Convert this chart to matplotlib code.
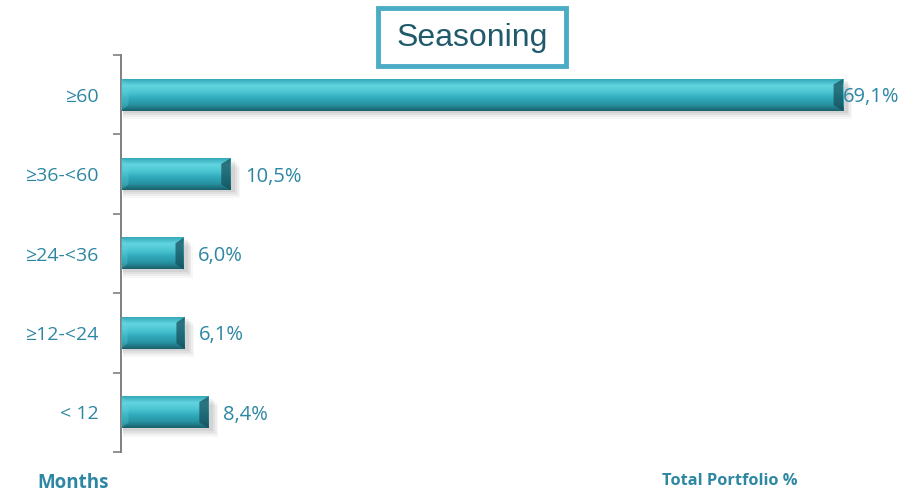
import numpy as np
import matplotlib
matplotlib.use("Agg")
import matplotlib.pyplot as plt
from matplotlib.patches import FancyBboxPatch, Polygon
from matplotlib.colors import LinearSegmentedColormap

# data
categories = ["≥60", "≥36-<60", "≥24-<36", "≥12-<24", "< 12"]
values = [69.1, 10.5, 6.0, 6.1, 8.4]
labels = ["69,1%", "10,5%", "6,0%", "6,1%", "8,4%"]

txt_col = "#2d87a3"
fam = ["Open Sans", "DejaVu Sans"]

fig = plt.figure(figsize=(9.15, 4.93), dpi=100)
ax = fig.add_axes([0.1322, 0.0832, 0.7994, 0.805])

n = len(categories)
ypos = np.arange(n)[::-1]  # top category first
h = 0.40

# vertical gradient for the bevelled bar look
grad = LinearSegmentedColormap.from_list(
    "bev", ["#1a606c", "#2793a3", "#31aabb", "#4cc6d3", "#62d4df", "#34a9b9"])
g = np.linspace(0, 1, 64).reshape(-1, 1)

for y, v in zip(ypos, values):
    # soft shadow
    for k, a in enumerate([0.06, 0.05, 0.04, 0.03]):
        off = 0.03 + k * 0.025
        ax.barh(y - off, v + 0.25 + k * 0.15, height=h, left=0.2,
                color="black", alpha=a, zorder=1, linewidth=0)
    ax.imshow(g, cmap=grad, aspect="auto", zorder=2,
              extent=(0, v, y - h / 2, y + h / 2), origin="lower",
              interpolation="bilinear")
    # bevelled end caps
    cap = min(0.9, v * 0.13)
    ax.add_patch(Polygon([(v - cap, y - h / 2 + 0.07), (v, y - h / 2), (v, y + h / 2),
                          (v - cap, y + h / 2 - 0.07)],
                         closed=True, color="#154c57", alpha=0.7, zorder=3, lw=0))
    ax.add_patch(Polygon([(0, y - h / 2), (cap * 0.8, y - h / 2 + 0.07),
                          (cap * 0.8, y + h / 2 - 0.07), (0, y + h / 2)],
                         closed=True, color="#5fd3df", alpha=0.3, zorder=3, lw=0))

for y, v, lab in zip(ypos, values, labels):
    dx = 0.0 if v > 50 else 1.4
    ax.text(v + dx, y - 0.03, lab, va="center", ha="left", fontsize=14.5,
            color=txt_col, family=fam, zorder=5)

ax.set_xlim(0, 70)
ax.set_ylim(-0.5, n - 0.5)
ax.set_yticks(ypos)
ax.set_yticklabels(categories, family=fam, fontsize=14, color=txt_col)
ax.set_yticks(np.arange(-0.5, n, 1.0), minor=True)
ax.tick_params(axis="y", which="major", length=0, pad=16)
ax.tick_params(axis="y", which="minor", length=6, width=1.2, color="#7f7f7f")
ax.set_xticks([])
for s in ["top", "right", "bottom"]:
    ax.spines[s].set_visible(False)
ax.spines["left"].set_color("#7f7f7f")
ax.spines["left"].set_linewidth(1.4)

# title box
fig.patches.append(FancyBboxPatch((0.413, 0.867), 0.206, 0.117,
                                  boxstyle="square,pad=0", transform=fig.transFigure,
                                  facecolor="white", edgecolor="#4bacc6", linewidth=3.5,
                                  zorder=10))
fig.text(0.516, 0.922, "Seasoning", ha="center", va="center", fontsize=23,
         color="#215b6b", family="Liberation Sans", zorder=11)

fig.text(0.041, 0.02, "Months", ha="left", va="center", fontsize=13.5,
         fontweight="bold", color=txt_col, family=fam)
fig.text(0.723, 0.024, "Total Portfolio %", ha="left", va="center", fontsize=11.8,
         fontweight="bold", color=txt_col, family=fam)

fig.savefig("out.png", dpi=100)
